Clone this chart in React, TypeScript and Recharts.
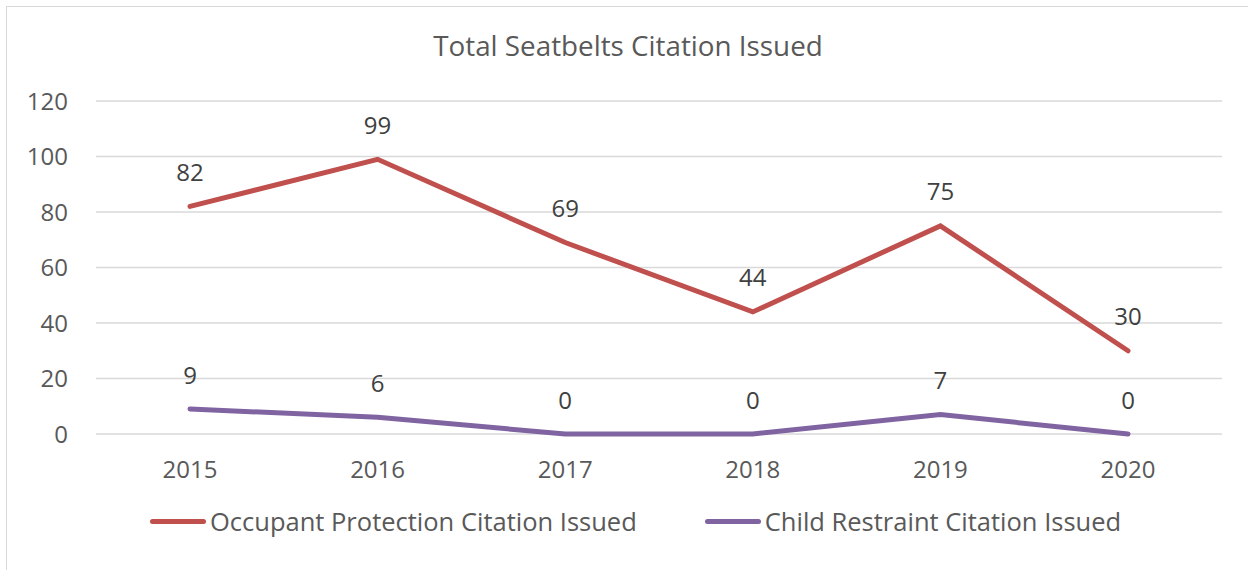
import { CartesianGrid, LabelList, Line, LineChart, XAxis, YAxis } from "recharts";

const YEARS = ["2015", "2016", "2017", "2018", "2019", "2020"];
const OCCUPANT = [82, 99, 69, 44, 75, 30];
const CHILD = [9, 6, 0, 0, 7, 0];
const Y_TICKS = [0, 20, 40, 60, 80, 100, 120];

const DATA = YEARS.map((year, i) => ({ year, occupant: OCCUPANT[i], child: CHILD[i] }));

const FONT = "'Open Sans', sans-serif";
const RED = "#C0504D";
const PURPLE = "#8064A2";

const SERIES = [
  { key: "occupant", name: "Occupant Protection Citation Issued", color: RED },
  { key: "child", name: "Child Restraint Citation Issued", color: PURPLE },
];

function ValueLabel(props: any) {
  const { x, y, value } = props;
  return (
    <text x={x} y={y - 35} textAnchor="middle" dominantBaseline="central" fill="#404040" fontSize={24} fontFamily={FONT}>
      {value}
    </text>
  );
}

function ChartLegend() {
  return (
    <div style={{ display: "flex", alignItems: "center", fontFamily: FONT, fontSize: 25.5, color: "#595959", whiteSpace: "nowrap" }}>
      {SERIES.map((s, i) => (
        <span key={s.key} style={{ display: "inline-flex", alignItems: "center", marginLeft: i === 0 ? 0 : 68 }}>
          <span style={{ display: "inline-block", width: 56, height: 5, borderRadius: 3, background: s.color, marginRight: 4 }} />
          {s.name}
        </span>
      ))}
    </div>
  );
}

export default function App() {
  return (
    <div style={{ position: "absolute", left: 0, top: 0, width: 1248, height: 570, overflow: "hidden", background: "#fff" }}>
      <div style={{ position: "absolute", left: 6, top: 6, width: 1260, height: 600, border: "1.5px solid #d9d9d9" }} />
      <div
        style={{
          position: "absolute",
          left: 0,
          top: 26,
          width: 1256,
          textAlign: "center",
          fontFamily: FONT,
          fontSize: 27.8,
          color: "#595959",
        }}
      >
        Total Seatbelts Citation Issued
      </div>
      <div style={{ position: "absolute", left: 0, top: 0 }}>
        <LineChart width={1248} height={570} data={DATA} margin={{ top: 101, right: 26, left: 0, bottom: 106 }}>
          <CartesianGrid stroke="#d9d9d9" strokeWidth={1.5} vertical={false} />
          <XAxis
            dataKey="year"
            axisLine={false}
            tickLine={false}
            tickMargin={21}
            padding={{ left: 94, right: 94 }}
            tick={{ fill: "#595959", fontSize: 24, fontFamily: FONT }}
          />
          <YAxis
            width={96}
            domain={[0, 120]}
            ticks={Y_TICKS}
            axisLine={false}
            tickLine={false}
            tickMargin={22}
            tick={{ fill: "#595959", fontSize: 24, fontFamily: FONT }}
          />
          {SERIES.map((s) => (
            <Line
              key={s.key}
              dataKey={s.key}
              name={s.name}
              stroke={s.color}
              strokeWidth={5}
              strokeLinecap="round"
              dot={false}
              activeDot={false}
              isAnimationActive={false}
            >
              <LabelList dataKey={s.key} content={<ValueLabel />} />
            </Line>
          ))}
        </LineChart>
      </div>
      <div style={{ position: "absolute", left: 150, top: 504 }}>
        <ChartLegend />
      </div>
    </div>
  );
}
